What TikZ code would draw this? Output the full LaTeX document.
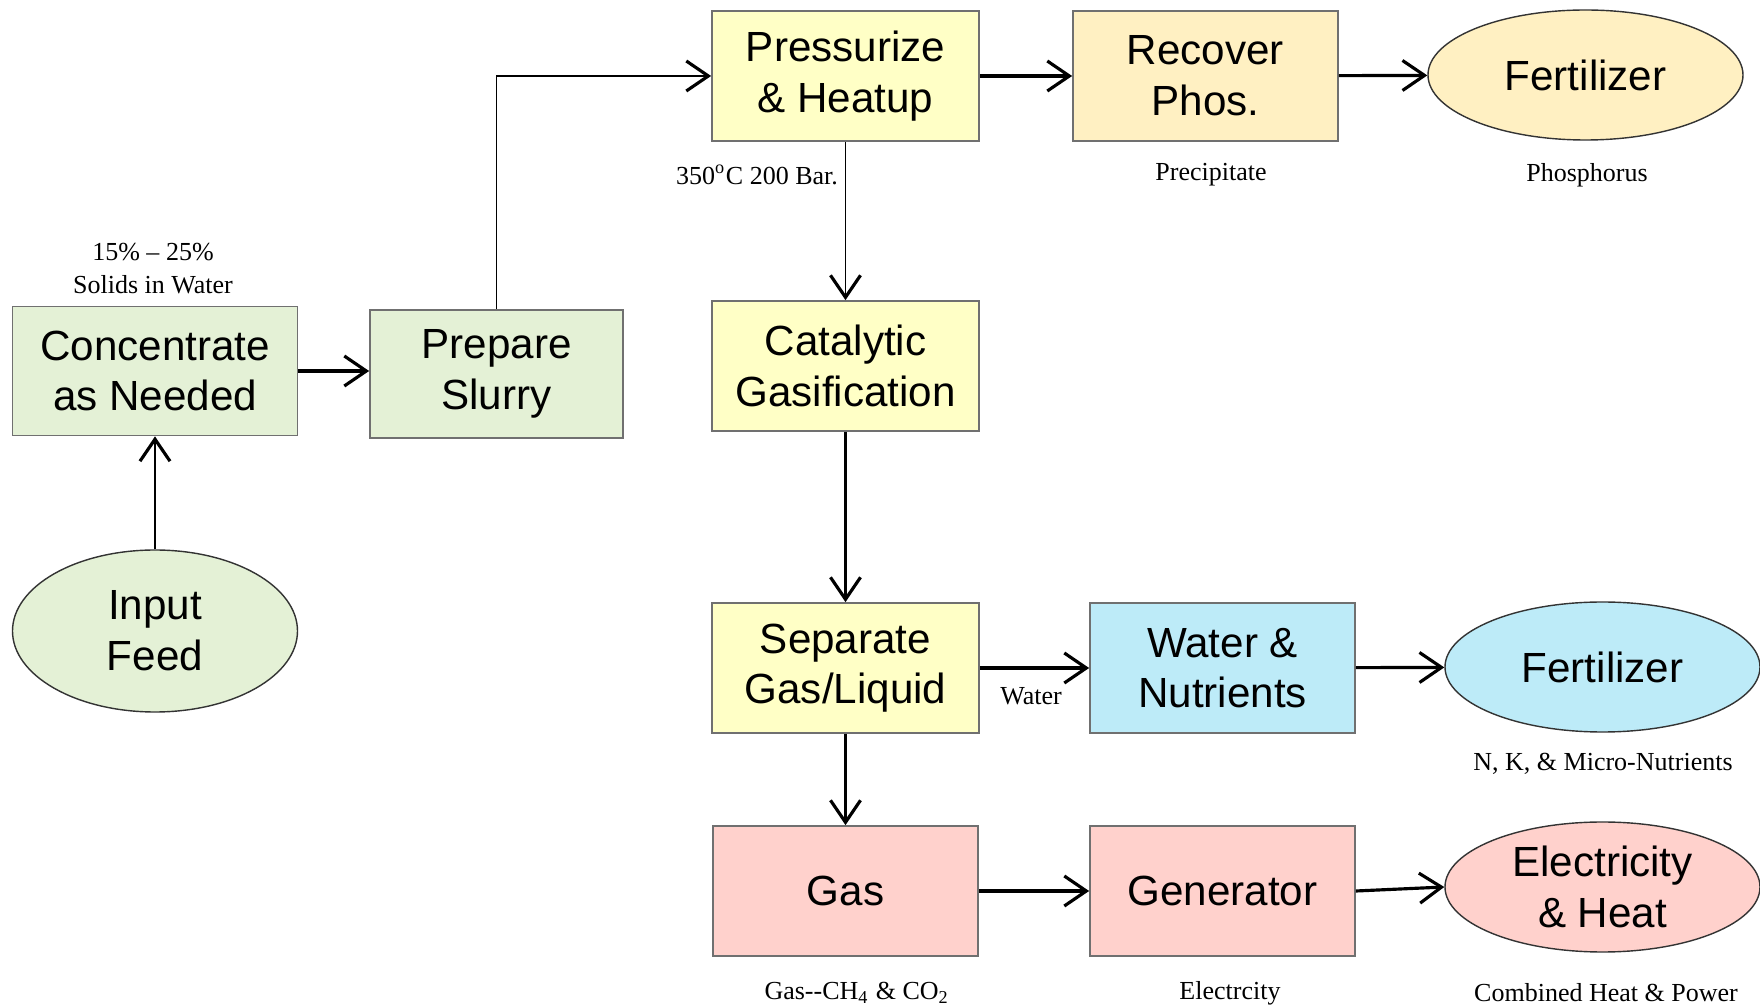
\documentclass[tikz,border=0pt]{standalone}
\usepackage{fontspec}
\setmainfont{Liberation Serif}
\newfontfamily\boxfont{Liberation Sans}
\usetikzlibrary{arrows.meta,shapes.geometric}
\definecolor{greenfill}{HTML}{E4F1D6}
\definecolor{yellowfill}{HTML}{FFFFC6}
\definecolor{tanfill}{HTML}{FFF0C2}
\definecolor{bluefill}{HTML}{BDEBF8}
\definecolor{pinkfill}{HTML}{FFD1CC}
\definecolor{edge}{HTML}{707070}
\begin{document}
\begin{tikzpicture}[y=-1cm,>={Straight Barb[length=2.2mm,width=3mm,line width=0.9pt]},
  box/.style={draw=edge,line width=0.5pt,font=\boxfont\fontsize{12}{14.4}\selectfont,
    align=center,minimum width=2.67cm,minimum height=1.3cm,inner sep=0pt},
  oval/.style={ellipse,draw=black!80,line width=0.4pt,font=\boxfont\fontsize{12}{14.4}\selectfont,
    align=center,minimum width=3.15cm,minimum height=1.3cm,inner xsep=0pt,inner ysep=-1.5pt},
  note/.style={font=\fontsize{7.4}{9.2}\selectfont,align=center,inner sep=0pt},
  arr/.style={->,line width=0.9pt},
  thinarr/.style={->,line width=0.55pt}]
\useasboundingbox (0,0) rectangle (17.6,10.08);

% feed side
\node[box,fill=greenfill,minimum width=2.85cm,minimum height=1.29cm] (conc) at (1.55,3.71) {Concentrate\\as Needed};
\node[box,fill=greenfill,minimum width=2.53cm,minimum height=1.28cm] (slurry) at (4.965,3.74) {Prepare\\Slurry};
\node[oval,fill=greenfill,minimum width=2.85cm,minimum height=1.62cm] (feed) at (1.55,6.31) {Input\\Feed};
\node[note] (solids) at (1.53,2.685) {15\% -- 25\%\\Solids in Water};

% reactor column
\node[box,fill=yellowfill] (press) at (8.455,0.76) {Pressurize\\\& Heatup};
\node[box,fill=yellowfill] (cat) at (8.455,3.66) {Catalytic\\Gasification};
\node[box,fill=yellowfill] (sep) at (8.455,6.68) {Separate\\Gas/Liquid};
\node[box,fill=pinkfill,minimum width=2.65cm] (gas) at (8.455,8.91) {Gas};
\node[note] (cond) at (7.57,1.75) {350\textsuperscript{o}C 200 Bar.};
\node[note] (gaslbl) at (8.57,9.93) {Gas{-}{-}CH\textsubscript{4} \& CO\textsubscript{2}};

% phosphorus row
\node[box,fill=tanfill,minimum width=2.65cm] (phos) at (12.055,0.76) {Recover\\Phos.};
\node[oval,fill=tanfill] (fertP) at (15.855,0.75) {Fertilizer};
\node[note] (precip) at (12.11,1.75) {Precipitate};
\node[note] (phosph) at (15.87,1.75) {Phosphorus};

% nutrient row
\node[box,fill=bluefill,minimum width=2.65cm] (water) at (12.225,6.68) {Water \&\\Nutrients};
\node[oval,fill=bluefill] (fertN) at (16.025,6.67) {Fertilizer};
\node[note] (waterlbl) at (10.31,6.96) {Water};
\node[note] (nk) at (16.03,7.64) {N, K, \& Micro-Nutrients};

% power row
\node[box,fill=pinkfill,minimum width=2.65cm] (gen) at (12.225,8.91) {Generator};
\node[oval,fill=pinkfill] (elec) at (16.025,8.87) {Electricity\\\& Heat};
\node[note] (eleclbl) at (12.30,9.93) {Electrcity};
\node[note] (chp) at (16.06,9.93) {Combined Heat \& Power};

\draw[thinarr] (feed)--(conc);
\draw[arr] (conc)--(slurry.west|-conc.east);
\draw[thinarr] (slurry.north)|-(press.west);
\draw[arr] (press)--(phos);
\draw[arr] (phos)--(fertP);
\draw[thinarr] (press)--(cat);
\draw[arr] (cat)--(sep);
\draw[arr] (sep)--(water);
\draw[arr] (water)--(fertN);
\draw[arr] (sep)--(gas);
\draw[arr] (gas)--(gen);
\draw[arr] (gen.east)--(elec.west);
\end{tikzpicture}
\end{document}
